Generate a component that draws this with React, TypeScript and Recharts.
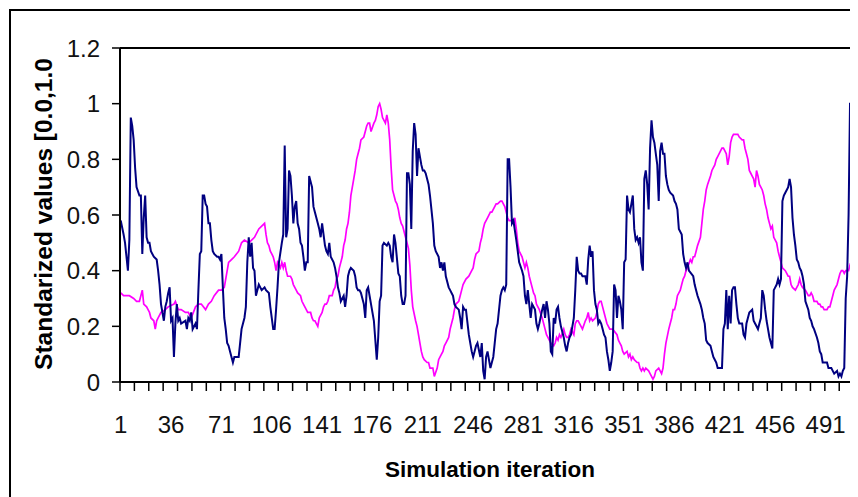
import React from 'react';
import { LineChart, Line, XAxis, YAxis, ReferenceLine } from 'recharts';

// [iteration, standardized value]
const navySeries: [number, number][] = [
  [1,.58],[3,.53],[4,.50],[5,.45],[6,.40],[7,.51],[8,.95],[9,.92],[10,.87],[11,.77],[12,.70],[14,.67],[15,.67],[16,.46],[17,.59],[18,.67],[19,.52],[20,.50],[21,.50],[22,.47],[24,.45],[26,.44],[27,.40],[28,.35],[29,.28],[31,.22],[32,.27],[33,.29],[34,.32],[35,.34],[36,.22],[37,.23],[38,.09],[39,.21],[40,.28],[41,.22],[42,.23],[43,.21],[46,.22],[47,.19],[48,.23],[49,.22],[50,.25],[51,.19],[53,.21],[54,.19],[55,.33],[56,.46],[57,.47],[58,.67],[59,.67],[60,.64],[61,.63],[62,.57],[63,.57],[64,.51],[65,.47],[66,.46],[68,.45],[69,.45],[70,.44],[71,.46],[72,.34],[73,.23],[74,.19],[75,.14],[76,.13],[77,.11],[78,.09],[79,.07],[80,.09],[83,.09],[84,.14],[85,.19],[86,.21],[87,.23],[88,.27],[89,.43],[90,.52],[91,.45],[92,.50],[93,.41],[94,.40],[95,.31],[97,.35],[99,.33],[101,.34],[102,.33],[104,.32],[105,.27],[106,.23],[107,.19],[108,.19],[109,.26],[110,.34],[111,.43],[113,.50],[114,.53],[115,.85],[116,.52],[117,.55],[118,.76],[119,.74],[120,.67],[121,.57],[122,.63],[123,.65],[124,.57],[125,.55],[126,.50],[127,.49],[128,.45],[129,.40],[130,.43],[131,.43],[132,.74],[134,.70],[135,.63],[136,.61],[137,.59],[138,.57],[139,.55],[140,.52],[141,.57],[143,.49],[144,.47],[145,.46],[146,.50],[147,.45],[149,.43],[150,.41],[151,.38],[152,.34],[153,.32],[154,.29],[156,.31],[157,.27],[158,.31],[159,.38],[160,.40],[161,.41],[163,.40],[164,.38],[165,.34],[166,.33],[167,.33],[168,.32],[170,.28],[171,.23],[172,.33],[173,.34],[174,.31],[175,.28],[177,.22],[178,.15],[179,.08],[180,.16],[181,.29],[182,.31],[183,.49],[184,.50],[186,.49],[187,.50],[188,.49],[189,.45],[190,.43],[191,.53],[192,.50],[194,.39],[195,.38],[196,.31],[197,.28],[198,.28],[199,.31],[200,.75],[201,.75],[202,.71],[203,.55],[204,.83],[205,.93],[206,.89],[207,.74],[208,.84],[209,.81],[210,.78],[211,.76],[212,.76],[213,.75],[215,.71],[216,.67],[217,.62],[218,.57],[219,.49],[220,.47],[222,.45],[223,.41],[224,.43],[225,.40],[226,.43],[227,.38],[229,.34],[230,.33],[231,.32],[232,.31],[233,.28],[234,.27],[236,.26],[237,.23],[238,.19],[239,.27],[240,.26],[241,.26],[243,.17],[244,.14],[245,.11],[246,.09],[247,.11],[248,.13],[249,.14],[251,.09],[252,.14],[253,.04],[254,.01],[255,.09],[256,.11],[258,.05],[259,.07],[260,.09],[261,.14],[262,.19],[263,.21],[265,.31],[266,.33],[267,.34],[268,.33],[269,.35],[270,.80],[271,.80],[272,.70],[273,.57],[274,.58],[276,.51],[277,.47],[278,.43],[280,.40],[281,.38],[282,.31],[283,.28],[284,.33],[285,.28],[286,.23],[287,.28],[289,.26],[290,.21],[291,.19],[292,.21],[294,.26],[295,.28],[296,.23],[297,.29],[298,.26],[299,.21],[300,.11],[301,.10],[302,.23],[303,.21],[304,.26],[305,.27],[306,.23],[307,.20],[309,.16],[310,.13],[311,.11],[312,.14],[313,.16],[314,.17],[316,.23],[317,.33],[318,.45],[319,.40],[320,.39],[321,.39],[322,.38],[324,.38],[325,.35],[326,.44],[327,.49],[328,.45],[329,.47],[330,.33],[331,.28],[332,.26],[333,.21],[334,.22],[335,.21],[336,.19],[337,.17],[338,.16],[339,.11],[340,.08],[341,.04],[342,.07],[343,.11],[344,.35],[345,.33],[346,.23],[347,.31],[348,.29],[349,.26],[350,.19],[351,.43],[352,.44],[353,.67],[354,.62],[355,.61],[356,.64],[357,.67],[358,.55],[359,.51],[360,.52],[361,.50],[362,.52],[363,.43],[364,.40],[365,.73],[366,.76],[367,.71],[368,.62],[369,.84],[370,.94],[371,.88],[372,.86],[373,.82],[374,.78],[375,.65],[376,.83],[377,.86],[378,.82],[379,.82],[380,.74],[381,.71],[382,.69],[383,.68],[385,.67],[386,.65],[387,.64],[388,.62],[389,.55],[391,.53],[392,.46],[393,.43],[394,.41],[395,.43],[396,.40],[399,.38],[400,.35],[401,.33],[402,.31],[404,.28],[405,.26],[406,.23],[407,.21],[408,.15],[409,.14],[411,.13],[412,.11],[413,.09],[414,.08],[415,.07],[416,.05],[419,.05],[420,.19],[421,.21],[422,.33],[423,.19],[424,.31],[425,.21],[426,.33],[427,.34],[428,.34],[429,.28],[430,.23],[431,.21],[433,.21],[434,.17],[435,.16],[436,.21],[437,.23],[438,.25],[440,.26],[441,.22],[442,.21],[443,.20],[444,.19],[445,.21],[446,.23],[447,.33],[448,.31],[449,.26],[450,.22],[451,.19],[452,.16],[453,.14],[454,.12],[455,.33],[456,.34],[457,.35],[458,.37],[459,.35],[460,.37],[461,.65],[462,.67],[463,.68],[464,.69],[465,.70],[466,.73],[467,.70],[468,.59],[469,.53],[470,.49],[471,.44],[472,.43],[473,.41],[474,.40],[475,.38],[476,.35],[477,.29],[479,.26],[480,.23],[481,.22],[482,.20],[483,.19],[485,.16],[486,.14],[487,.11],[488,.10],[489,.07],[492,.07],[493,.05],[495,.05],[496,.04],[497,.03],[499,.04],[500,.02],[501,.03],[502,.02],[503,.04],[504,.05],[505,.30],[506,.38],[507,.60],[508,1.0],[509,1.0],[510,.78],[511,.76],[512,.75],[513,.74],[514,.74],
];

const magentaSeries: [number, number][] = [
  [1,.32],[3,.31],[5,.31],[7,.31],[10,.30],[12,.29],[14,.29],[16,.33],[17,.28],[19,.27],[20,.26],[21,.25],[22,.23],[24,.22],[25,.19],[26,.22],[27,.23],[29,.25],[32,.26],[34,.27],[38,.28],[39,.29],[41,.26],[43,.26],[46,.25],[48,.25],[50,.23],[53,.27],[55,.28],[57,.28],[60,.26],[62,.28],[64,.29],[66,.31],[69,.33],[71,.33],[73,.34],[76,.43],[78,.44],[80,.45],[83,.47],[85,.50],[87,.51],[90,.50],[92,.51],[94,.52],[97,.55],[99,.56],[101,.57],[102,.53],[103,.50],[104,.49],[105,.47],[106,.46],[107,.45],[108,.43],[109,.40],[110,.43],[112,.41],[113,.43],[114,.41],[115,.43],[116,.40],[117,.38],[119,.38],[120,.37],[121,.35],[122,.34],[123,.33],[124,.32],[126,.31],[127,.29],[128,.28],[129,.27],[130,.26],[131,.25],[133,.25],[134,.23],[135,.22],[136,.22],[137,.21],[138,.20],[139,.23],[141,.25],[142,.27],[143,.28],[144,.28],[145,.29],[146,.31],[148,.31],[149,.33],[150,.34],[151,.37],[152,.38],[153,.41],[155,.45],[156,.49],[157,.51],[158,.55],[159,.57],[160,.61],[161,.67],[163,.73],[164,.76],[165,.80],[166,.82],[167,.84],[168,.87],[170,.88],[171,.90],[172,.92],[173,.93],[174,.93],[175,.90],[177,.93],[178,.94],[179,.96],[180,.99],[181,1.0],[182,.98],[183,.95],[185,.93],[186,.96],[187,.93],[188,.87],[189,.77],[190,.69],[192,.65],[193,.64],[194,.62],[195,.59],[196,.57],[197,.56],[199,.52],[200,.50],[201,.48],[202,.42],[203,.33],[204,.27],[206,.22],[207,.20],[208,.17],[209,.14],[210,.11],[211,.09],[212,.08],[214,.07],[215,.07],[216,.05],[218,.05],[219,.02],[221,.05],[222,.08],[223,.09],[224,.10],[225,.11],[226,.13],[227,.14],[229,.16],[230,.19],[231,.21],[232,.23],[233,.26],[234,.28],[236,.29],[237,.31],[238,.33],[239,.35],[241,.37],[243,.38],[244,.39],[245,.40],[246,.41],[247,.44],[248,.46],[250,.47],[251,.50],[252,.52],[253,.55],[254,.57],[255,.58],[256,.59],[258,.61],[259,.61],[260,.62],[261,.63],[262,.64],[263,.64],[265,.65],[266,.65],[267,.64],[268,.63],[269,.61],[270,.59],[271,.58],[273,.58],[274,.57],[275,.59],[276,.55],[277,.50],[278,.47],[280,.45],[281,.43],[282,.41],[283,.43],[284,.41],[285,.38],[287,.34],[288,.32],[289,.31],[290,.28],[291,.27],[292,.26],[294,.23],[295,.21],[296,.19],[297,.17],[298,.16],[299,.15],[300,.14],[302,.13],[303,.14],[304,.16],[305,.15],[306,.17],[307,.16],[309,.19],[310,.17],[311,.16],[312,.16],[313,.17],[314,.19],[316,.17],[317,.21],[318,.22],[319,.22],[320,.21],[321,.20],[322,.19],[324,.22],[325,.23],[326,.25],[327,.22],[328,.23],[329,.22],[331,.23],[332,.25],[333,.28],[334,.29],[335,.29],[336,.27],[338,.23],[339,.21],[340,.20],[341,.19],[343,.19],[346,.17],[347,.15],[348,.14],[349,.13],[350,.11],[351,.10],[353,.11],[354,.09],[355,.10],[356,.08],[357,.09],[358,.08],[360,.07],[361,.07],[362,.05],[363,.04],[364,.05],[365,.04],[366,.05],[368,.04],[369,.03],[370,.02],[371,.01],[372,.02],[373,.04],[375,.05],[376,.04],[377,.03],[378,.05],[379,.10],[380,.14],[382,.19],[383,.21],[384,.23],[385,.26],[386,.26],[387,.28],[388,.31],[390,.33],[391,.35],[392,.37],[393,.38],[394,.40],[395,.41],[397,.44],[398,.43],[399,.45],[400,.45],[401,.47],[402,.49],[404,.52],[405,.57],[406,.62],[407,.65],[408,.69],[409,.71],[411,.74],[412,.76],[413,.77],[414,.78],[415,.80],[416,.81],[418,.83],[419,.84],[420,.84],[421,.83],[422,.82],[423,.78],[424,.81],[425,.86],[426,.88],[427,.89],[428,.89],[430,.89],[431,.88],[433,.87],[434,.87],[435,.84],[436,.82],[437,.80],[438,.76],[439,.75],[440,.74],[441,.73],[442,.70],[443,.76],[444,.74],[445,.71],[446,.70],[447,.69],[448,.67],[449,.64],[450,.62],[451,.59],[452,.57],[453,.55],[454,.56],[455,.52],[457,.50],[458,.47],[459,.45],[460,.43],[461,.41],[463,.40],[464,.39],[465,.38],[466,.38],[467,.35],[468,.34],[470,.33],[471,.34],[472,.35],[473,.37],[474,.35],[475,.34],[477,.33],[478,.32],[479,.31],[480,.31],[481,.32],[482,.31],[483,.29],[485,.29],[486,.28],[487,.28],[488,.27],[489,.27],[490,.26],[492,.26],[493,.27],[494,.27],[495,.29],[496,.31],[497,.33],[499,.35],[500,.37],[501,.39],[502,.40],[503,.40],[504,.39],[505,.40],[507,.40],[508,.42],[509,.41],[510,.39],[511,.38],[512,.37],[513,.37],[514,.36],
];

const yTicks = [0, 0.2, 0.4, 0.6, 0.8, 1, 1.2];
const xLabelTicks = [1, 36, 71, 106, 141, 176, 211, 246, 281, 316, 351, 386, 421, 456, 491];
const iterationCount = 520;
const xMinorTicks = Array.from({ length: iterationCount / 10 + 1 }, (_, i) => 0.5 + 10 * i);

const navyData = navySeries.map(([c, v]) => ({ c, v }));
const magentaData = magentaSeries.map(([c, v]) => ({ c, v }));
const allXTicks = [...xMinorTicks, ...xLabelTicks].sort((a, b) => a - b);

const FONT = '"Liberation Sans", Arial, sans-serif';

const XTick = (props: any) => {
  const { x, y, payload } = props;
  const val = payload.value;
  if (xLabelTicks.includes(val)) {
    return (
      <text x={x} y={y + 51} textAnchor="middle" fontFamily={FONT} fontSize={24} fill="#111">
        {val}
      </text>
    );
  }
  return <line x1={x} x2={x} y1={y} y2={y + 9} stroke="#000" strokeWidth={1.5} />;
};

export default function App() {
  return (
    <div style={{ position: 'relative', width: 850, height: 489, overflow: 'hidden', background: '#fff' }}>
      <style>{'html,body{overflow:hidden;}'}</style>
      <div
        style={{
          position: 'absolute',
          left: 1,
          top: 1,
          width: 2000,
          height: 2000,
          borderLeft: '2px solid #000',
          borderTop: '2px solid #000',
          pointerEvents: 'none',
        }}
      />
      <LineChart
        width={900}
        height={489}
        margin={{ top: 40, right: 40, bottom: 0, left: 0 }}
        style={{ position: 'absolute', left: 0, top: 0 }}
      >
        <XAxis
          type="number"
          dataKey="c"
          domain={[0.5, iterationCount + 0.5]}
          ticks={allXTicks}
          interval={0}
          tickLine={false}
          tickSize={0}
          tickMargin={0}
          tick={(p: any) => <XTick {...p} />}
          axisLine={{ stroke: '#000', strokeWidth: 2 }}
          height={115}
          allowDecimals
          label={{
            content: () => (
              <text x={482} y={469} textAnchor="middle" fontFamily={FONT} fontWeight="bold" fontSize={22.5} fill="#000">
                Simulation iteration
              </text>
            ),
          }}
        />
        <YAxis
          type="number"
          domain={[0, 1.2]}
          ticks={yTicks}
          interval={0}
          width={112}
          tickSize={8}
          tickMargin={12}
          tickLine={{ stroke: '#000', strokeWidth: 1.5 }}
          axisLine={{ stroke: '#000', strokeWidth: 2 }}
          tick={{ fontFamily: FONT, fontSize: 24, fill: '#111' }}
          tickFormatter={(v: number) => String(Number(v.toFixed(1)))}
          label={{
            content: () => (
              <text
                x={35}
                y={206}
                transform="rotate(-90, 35, 206)"
                textAnchor="middle"
                dominantBaseline="central"
                fontFamily={FONT}
                fontWeight="bold"
                fontSize={24.5}
                fill="#000"
              >
                Standarized values [0.0,1.0
              </text>
            ),
          }}
        />
        <ReferenceLine y={1.2} stroke="#000" strokeWidth={2} />
        <Line
          data={magentaData}
          dataKey="v"
          type="linear"
          stroke="#ff00ff"
          strokeWidth={1.7}
          dot={false}
          activeDot={false}
          isAnimationActive={false}
        />
        <Line
          data={navyData}
          dataKey="v"
          type="linear"
          stroke="#000080"
          strokeWidth={2}
          dot={false}
          activeDot={false}
          isAnimationActive={false}
        />
      </LineChart>
    </div>
  );
}
